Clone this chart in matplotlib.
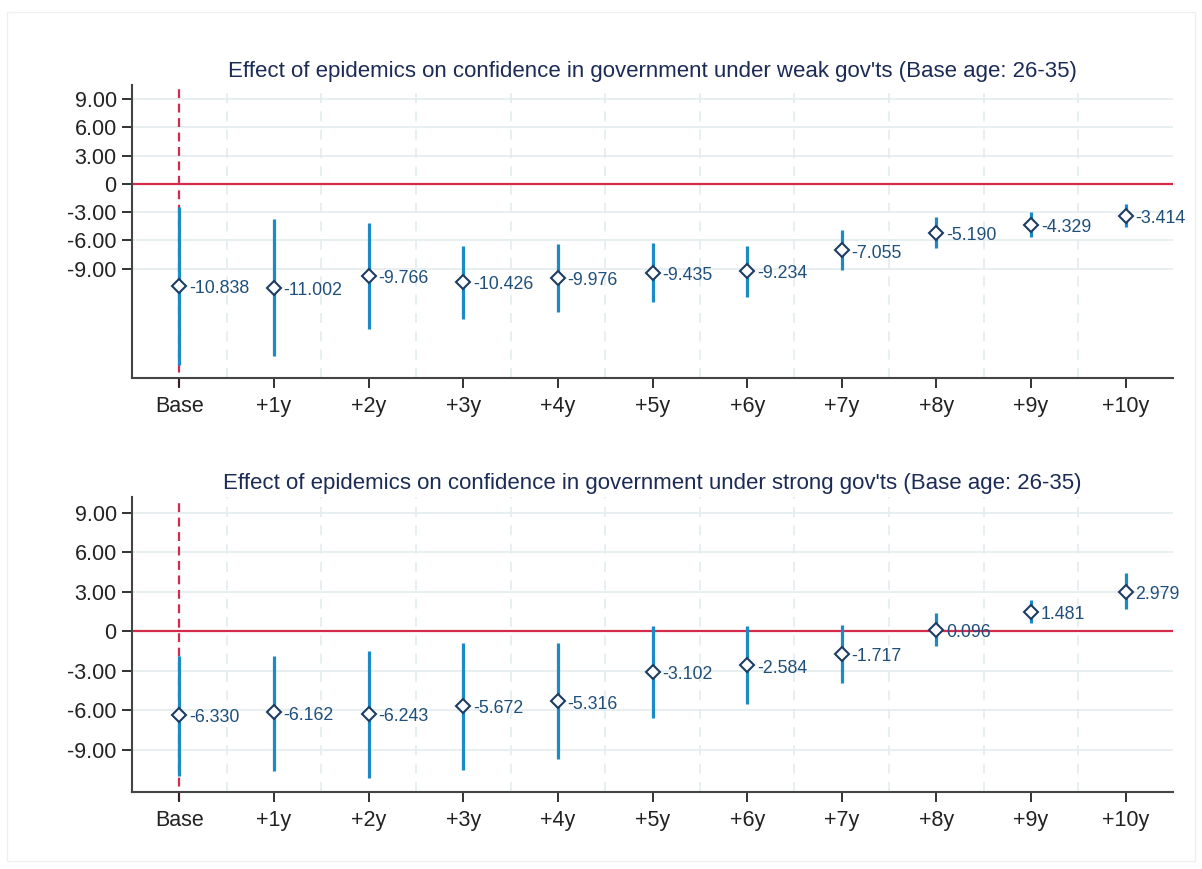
import numpy as np
import matplotlib
matplotlib.use('Agg')
from matplotlib import pyplot as plt
from matplotlib.patches import Rectangle

plt.rcParams['font.family'] = ['Liberation Sans', 'DejaVu Sans']

# categories
labels = ['Base', '+1y', '+2y', '+3y', '+4y', '+5y', '+6y', '+7y', '+8y', '+9y', '+10y']

# weak governments
weak_coef = [-10.838, -11.002, -9.766, -10.426, -9.976, -9.435, -9.234, -7.055, -5.190, -4.329, -3.414]
weak_lo = [-19.25, -18.3, -15.4, -14.3, -13.6, -12.55, -12.0, -9.15, -6.8, -5.6, -4.6]
weak_hi = [-2.5, -3.7, -4.15, -6.6, -6.4, -6.3, -6.6, -4.9, -3.5, -3.0, -2.1]

# strong governments
strong_coef = [-6.330, -6.162, -6.243, -5.672, -5.316, -3.102, -2.584, -1.717, 0.096, 1.481, 2.979]
strong_lo = [-10.95, -10.6, -11.1, -10.5, -9.7, -6.6, -5.55, -3.95, -1.14, 0.6, 1.67]
strong_hi = [-1.9, -1.9, -1.5, -0.9, -0.9, 0.4, 0.4, 0.45, 1.37, 2.4, 4.4]

yticks = [9, 6, 3, 0, -3, -6, -9]

ci_color = '#1a8bc4'
mk_edge = '#1c3d63'
lab_color = '#1f4f7a'
title_color = '#1b2b55'
zero_red = '#d42a4c'
grid_col = '#e3ecee'

fig = plt.figure(figsize=(12.02, 8.69), dpi=100)
fig.patch.set_facecolor('white')
fig.patches.append(Rectangle((7/1202, 1 - 861/869), 1188/1202, 849/869, transform=fig.transFigure,
                             fill=False, edgecolor='#eef0f0', linewidth=1))

W, H = 1202, 869
ax1 = fig.add_axes([132/W, 1 - 378/H, (1173-132)/W, (378-85)/H])
ax2 = fig.add_axes([132/W, 1 - 792/H, (1173-132)/W, (792-497)/H])

panels = [
    (ax1, weak_coef, weak_lo, weak_hi, "Effect of epidemics on confidence in government under weak gov'ts (Base age: 26-35)", (-20.6, 10.5)),
    (ax2, strong_coef, strong_lo, strong_hi, "Effect of epidemics on confidence in government under strong gov'ts (Base age: 26-35)", (-12.2, 10.2)),
]

x = np.arange(len(labels))
for ax, coef, lo, hi, title, ylim in panels:
    ax.set_xlim(-0.5, len(labels) - 0.5)
    ax.set_ylim(*ylim)
    for yt in yticks:
        ax.axhline(yt, color=grid_col, lw=1.2, zorder=0)
    for xm in x[:-1] + 0.5:
        ax.axvline(xm, color=grid_col, lw=1.2, ls=(0, (6, 5)), zorder=0)
    ax.axhline(0, color=zero_red, lw=1.6, zorder=1)
    ax.axvline(0, ymin=-0.03, ymax=0.99, color=zero_red, lw=1.6, ls=(0, (4, 2.5)), zorder=1, clip_on=False)
    ax.vlines(x, lo, hi, color=ci_color, lw=2.3, zorder=2)
    ax.plot(x, coef, ls='none', marker='D', ms=7, mfc='white', mec=mk_edge, mew=1.5, zorder=3)
    for xi, c in zip(x, coef):
        ax.annotate('%.3f' % c, (xi, c), xytext=(7, -2), textcoords='offset points',
                    va='center', ha='left', fontsize=12.8, color=lab_color, zorder=4)
    ax.set_yticks(yticks)
    ax.set_yticklabels(['0' if t == 0 else '%.2f' % t for t in yticks])
    ax.set_xticks(x)
    ax.set_xticklabels(labels)
    ax.tick_params(axis='both', labelsize=15.5, colors='#222222', length=7, width=1.3, pad=4)
    ax.tick_params(axis='x', pad=6)
    for s in ['top', 'right']:
        ax.spines[s].set_visible(False)
    for s in ['left', 'bottom']:
        ax.spines[s].set_color('#444444')
        ax.spines[s].set_linewidth(1.5)
    ax.set_title(title, fontsize=16, color=title_color, pad=6)

fig.savefig('out.png', dpi=100)
